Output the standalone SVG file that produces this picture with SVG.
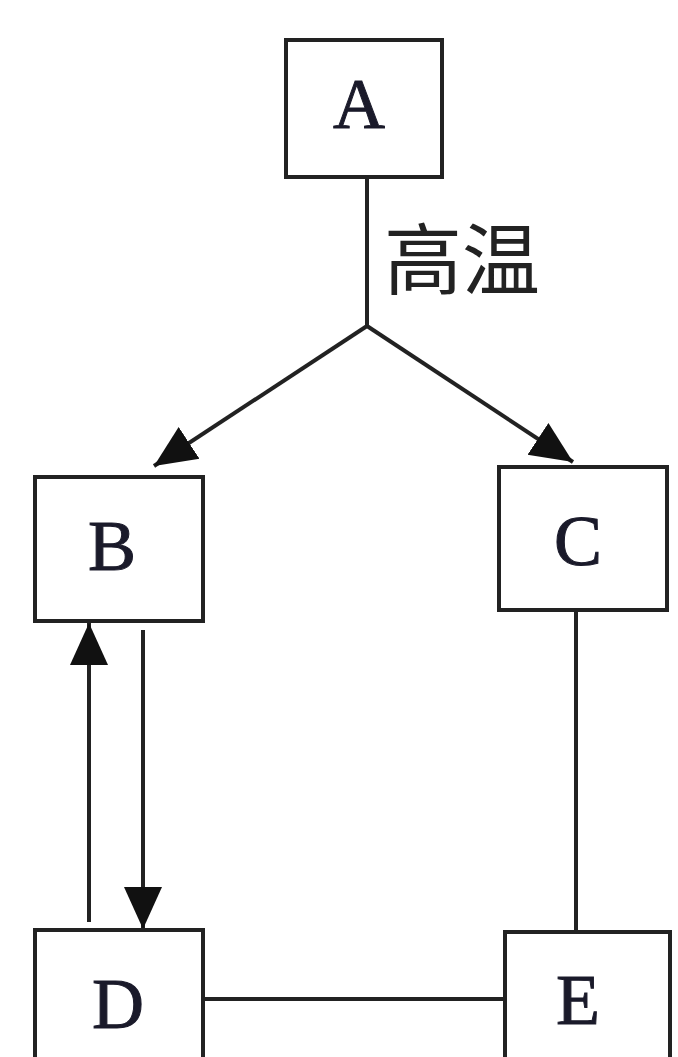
<svg xmlns="http://www.w3.org/2000/svg" width="678" height="1057" viewBox="0 0 678 1057">
<style>
.box{fill:#fff;stroke:#222;stroke-width:4}
.lbl{font-family:"Liberation Serif","Times New Roman",serif;font-size:72px;fill:#1a1a2a;stroke:#1a1a2a;stroke-width:1;text-anchor:middle}
.edge{stroke:#222;stroke-width:4;fill:none}
.cjk{font-family:"Noto Sans CJK SC","Noto Sans",sans-serif;font-size:78px;fill:#222}
</style>
<defs>
<marker id="arr" markerUnits="userSpaceOnUse" markerWidth="44" markerHeight="40" refX="42" refY="20" orient="auto">
<path d="M0,1 L42,20 L0,39 Z" fill="#111"/>
</marker>
</defs>
<rect width="678" height="1057" fill="#fff"/>
<g id="connectors">
<line class="edge" x1="367" y1="177" x2="367" y2="326"/>
<line class="edge" x1="367" y1="326" x2="154" y2="466" marker-end="url(#arr)"/>
<line class="edge" x1="367" y1="326" x2="573" y2="462" marker-end="url(#arr)"/>
<line class="edge" x1="89" y1="922" x2="89" y2="623" marker-end="url(#arr)"/>
<line class="edge" x1="143" y1="630" x2="143" y2="929" marker-end="url(#arr)"/>
<line class="edge" x1="576" y1="610" x2="576" y2="932"/>
<line class="edge" x1="203" y1="999" x2="505" y2="999"/>
<text class="cjk" x="384" y="289">高温</text>
</g>
<g id="node-A"><rect class="box" x="286" y="40" width="156" height="137"/><text class="lbl" x="359" y="128">A</text></g>
<g id="node-B"><rect class="box" x="35" y="477" width="168" height="144"/><text class="lbl" x="112" y="570">B</text></g>
<g id="node-C"><rect class="box" x="499" y="467" width="168" height="143"/><text class="lbl" x="578" y="565">C</text></g>
<g id="node-D"><rect class="box" x="35" y="930" width="168" height="140"/><text class="lbl" x="118" y="1028">D</text></g>
<g id="node-E"><rect class="box" x="505" y="932" width="165" height="140"/><text class="lbl" x="578" y="1024">E</text></g>
</svg>
